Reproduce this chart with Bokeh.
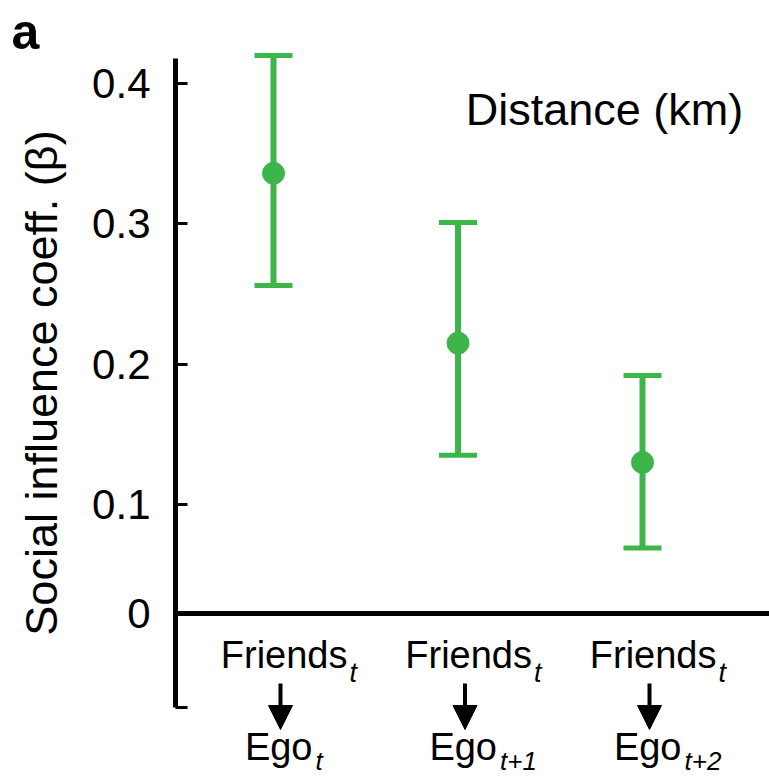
from bokeh.plotting import figure
from bokeh.models import (ColumnDataSource, LinearAxis, FixedTicker, Whisker, TeeHead,
                          Label, Arrow, NormalHead, Range1d)
from bokeh.embed import file_html
from bokeh.resources import INLINE

# ---- data ----
positions = [1, 2, 3]
top_labels = ["Friends", "Friends", "Friends"]
top_subs = ["t", "t", "t"]
bottom_labels = ["Ego", "Ego", "Ego"]
bottom_subs = ["t", "t+1", "t+2"]
coef = [0.336, 0.215, 0.130]
upper = [0.420, 0.301, 0.192]
lower = [0.256, 0.135, 0.069]
tick_values = [0.1, 0.2, 0.3, 0.4]
tick_labels = ["0.1", "0.2", "0.3", "0.4"]
zero_line = 0.0223          # where the "0" baseline is drawn in the reference
axis_bottom = -0.0447
axis_top = 0.418
panel_title = "Distance (km)"
panel_letter = "a"
y_label = "Social influence coeff. (β)"

GREEN = "#3db54a"
FONT = "Liberation Sans"

W, H = 769, 778
XPX = 184.5      # pixels per category step
YPX = 1403.3     # pixels per unit of beta
X_START = 1 - 273 / XPX
X_END = 3 + (W - 642) / XPX
Y_END = 0.4 + 83 / YPX
Y_START = 0.4 - (H - 83) / YPX
AXIS_X = 1 - (273 - 175) / XPX


def xpx(px):
    return 1 + (px - 273) / XPX


def ypx(py):
    return 0.4 - (py - 83) / YPX


p = figure(width=W, height=H, output_backend="svg", toolbar_location=None,
           x_axis_type=None, y_axis_type=None,
           x_range=Range1d(X_START, X_END), y_range=Range1d(Y_START, Y_END),
           min_border_left=0, min_border_right=0, min_border_top=0, min_border_bottom=0)
p.outline_line_color = None
p.xgrid.visible = False
p.ygrid.visible = False
p.background_fill_color = "white"
p.border_fill_color = "white"

# y axis (drawn at a fixed x location inside the frame)
yaxis = LinearAxis(bounds=(axis_bottom, axis_top), fixed_location=AXIS_X)
yaxis.ticker = FixedTicker(ticks=[axis_bottom, zero_line] + tick_values, minor_ticks=[])
ov = {axis_bottom: "", zero_line: "0"}
for v, t in zip(tick_values, tick_labels):
    ov[v] = t
yaxis.major_label_overrides = ov
yaxis.axis_line_width = 5
yaxis.axis_line_color = "black"
yaxis.major_tick_in = 12
yaxis.major_tick_out = 0
yaxis.major_tick_line_width = 3
yaxis.major_label_text_font = FONT
yaxis.major_label_text_font_size = "42px"
yaxis.major_label_text_color = "black"
yaxis.major_label_standoff = 25
yaxis.axis_label = y_label
yaxis.axis_label_text_font = FONT
yaxis.axis_label_text_font_size = "45px"
yaxis.axis_label_text_font_style = "normal"
yaxis.axis_label_text_color = "black"
yaxis.axis_label_standoff = 22
p.add_layout(yaxis, "left")

# zero line from the axis to the right edge
p.segment(x0=[AXIS_X], y0=[zero_line], x1=[X_END], y1=[zero_line],
          line_color="black", line_width=5)

src = ColumnDataSource(dict(x=positions, y=coef, upper=upper, lower=lower,
                            top=top_labels, tsub=top_subs, bot=bottom_labels, bsub=bottom_subs,
                            zl=[zero_line] * 3,
                            ax=[v + 7 / XPX for v in positions],
                            ys=[ypx(683)] * 3, ye=[ypx(729)] * 3))

wh = Whisker(base="x", upper="upper", lower="lower", source=src,
             line_color=GREEN, line_width=6,
             upper_head=TeeHead(size=38, line_color=GREEN, line_width=5),
             lower_head=TeeHead(size=38, line_color=GREEN, line_width=5))
p.add_layout(wh)
p.scatter("x", "y", source=src, size=22, color=GREEN)

# category labels (Friends_t -> Ego_t+k)
p.text("x", "zl", text="top", source=src, x_offset=74, y_offset=41,
       text_align="right", text_baseline="middle",
       text_font={"value": FONT}, text_font_size="38px", text_color="black")
p.text("x", "zl", text="tsub", source=src, x_offset=76, y_offset=59,
       text_align="left", text_baseline="middle", text_font_style="italic",
       text_font={"value": FONT}, text_font_size="27px", text_color="black")
p.text("x", "zl", text="bot", source=src, x_offset=39, y_offset=133,
       text_align="right", text_baseline="middle",
       text_font={"value": FONT}, text_font_size="38px", text_color="black")
p.text("x", "zl", text="bsub", source=src, x_offset=42, y_offset=147,
       text_align="left", text_baseline="middle", text_font_style="italic",
       text_font={"value": FONT}, text_font_size="26px", text_color="black")

p.add_layout(Arrow(x_start="ax", y_start="ys", x_end="ax", y_end="ye", source=src,
                   line_color="black", line_width=4,
                   end=NormalHead(size=24, fill_color="black", line_color="black", line_width=1)))

# panel title and letter
p.add_layout(Label(x=xpx(604), y=ypx(109), text=panel_title, text_align="center",
                   text_baseline="middle", text_font=FONT, text_font_size="45px",
                   text_color="black"))
p.add_layout(Label(x=xpx(11), y=ypx(31), text=panel_letter, text_align="left",
                   text_baseline="middle", text_font=FONT, text_font_size="50px",
                   text_font_style="bold", text_color="black"))

open("out.html", "w").write(file_html(p, INLINE))
